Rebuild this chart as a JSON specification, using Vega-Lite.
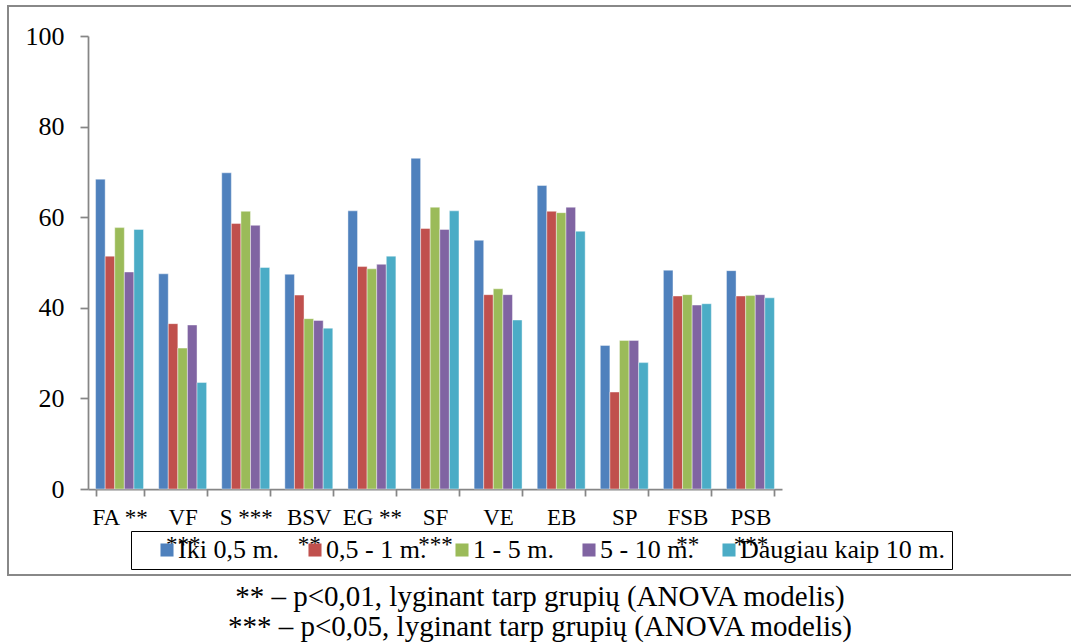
{
  "$schema": "https://vega.github.io/schema/vega-lite/v6.json",
  "width": 1064,
  "height": 569,
  "autosize": {"type": "none"},
  "padding": {"left": 8, "top": 6, "right": 0, "bottom": 69},
  "background": "white",
  "config": {
    "font": "Liberation Serif",
    "view": {"stroke": "#888888", "strokeWidth": 2},
    "legend": {"labelFont": "Liberation Serif"},
    "axis": {"labelFont": "Liberation Serif"}
  },
  "title": {
    "text": [
      "** – p<0,01, lyginant tarp grupių (ANOVA modelis)",
      "*** – p<0,05, lyginant tarp grupių (ANOVA modelis)"
    ],
    "orient": "bottom",
    "anchor": "middle",
    "font": "Liberation Serif",
    "fontSize": 29,
    "fontWeight": "normal",
    "color": "black",
    "lineHeight": 30,
    "offset": 8
  },
  "data": {
    "values": [
      {"cat": "FA **", "grp": "Iki 0,5 m.", "v": 68.4},
      {"cat": "FA **", "grp": "0,5 - 1 m.", "v": 51.4},
      {"cat": "FA **", "grp": "1 - 5 m.", "v": 57.7},
      {"cat": "FA **", "grp": "5 - 10 m.", "v": 47.9},
      {"cat": "FA **", "grp": "Daugiau kaip 10 m.", "v": 57.3},
      {"cat": "VF ***", "grp": "Iki 0,5 m.", "v": 47.5},
      {"cat": "VF ***", "grp": "0,5 - 1 m.", "v": 36.5},
      {"cat": "VF ***", "grp": "1 - 5 m.", "v": 31.1},
      {"cat": "VF ***", "grp": "5 - 10 m.", "v": 36.2},
      {"cat": "VF ***", "grp": "Daugiau kaip 10 m.", "v": 23.5},
      {"cat": "S ***", "grp": "Iki 0,5 m.", "v": 69.8},
      {"cat": "S ***", "grp": "0,5 - 1 m.", "v": 58.6},
      {"cat": "S ***", "grp": "1 - 5 m.", "v": 61.3},
      {"cat": "S ***", "grp": "5 - 10 m.", "v": 58.2},
      {"cat": "S ***", "grp": "Daugiau kaip 10 m.", "v": 48.9},
      {"cat": "BSV **", "grp": "Iki 0,5 m.", "v": 47.4},
      {"cat": "BSV **", "grp": "0,5 - 1 m.", "v": 42.8},
      {"cat": "BSV **", "grp": "1 - 5 m.", "v": 37.6},
      {"cat": "BSV **", "grp": "5 - 10 m.", "v": 37.2},
      {"cat": "BSV **", "grp": "Daugiau kaip 10 m.", "v": 35.5},
      {"cat": "EG **", "grp": "Iki 0,5 m.", "v": 61.4},
      {"cat": "EG **", "grp": "0,5 - 1 m.", "v": 49.1},
      {"cat": "EG **", "grp": "1 - 5 m.", "v": 48.6},
      {"cat": "EG **", "grp": "5 - 10 m.", "v": 49.6},
      {"cat": "EG **", "grp": "Daugiau kaip 10 m.", "v": 51.4},
      {"cat": "SF ***", "grp": "Iki 0,5 m.", "v": 73.0},
      {"cat": "SF ***", "grp": "0,5 - 1 m.", "v": 57.5},
      {"cat": "SF ***", "grp": "1 - 5 m.", "v": 62.2},
      {"cat": "SF ***", "grp": "5 - 10 m.", "v": 57.3},
      {"cat": "SF ***", "grp": "Daugiau kaip 10 m.", "v": 61.4},
      {"cat": "VE", "grp": "Iki 0,5 m.", "v": 54.9},
      {"cat": "VE", "grp": "0,5 - 1 m.", "v": 42.9},
      {"cat": "VE", "grp": "1 - 5 m.", "v": 44.2},
      {"cat": "VE", "grp": "5 - 10 m.", "v": 42.9},
      {"cat": "VE", "grp": "Daugiau kaip 10 m.", "v": 37.3},
      {"cat": "EB", "grp": "Iki 0,5 m.", "v": 67.0},
      {"cat": "EB", "grp": "0,5 - 1 m.", "v": 61.3},
      {"cat": "EB", "grp": "1 - 5 m.", "v": 61.0},
      {"cat": "EB", "grp": "5 - 10 m.", "v": 62.2},
      {"cat": "EB", "grp": "Daugiau kaip 10 m.", "v": 56.9},
      {"cat": "SP", "grp": "Iki 0,5 m.", "v": 31.7},
      {"cat": "SP", "grp": "0,5 - 1 m.", "v": 21.4},
      {"cat": "SP", "grp": "1 - 5 m.", "v": 32.8},
      {"cat": "SP", "grp": "5 - 10 m.", "v": 32.8},
      {"cat": "SP", "grp": "Daugiau kaip 10 m.", "v": 27.9},
      {"cat": "FSB **", "grp": "Iki 0,5 m.", "v": 48.3},
      {"cat": "FSB **", "grp": "0,5 - 1 m.", "v": 42.6},
      {"cat": "FSB **", "grp": "1 - 5 m.", "v": 42.9},
      {"cat": "FSB **", "grp": "5 - 10 m.", "v": 40.6},
      {"cat": "FSB **", "grp": "Daugiau kaip 10 m.", "v": 40.9},
      {"cat": "PSB ***", "grp": "Iki 0,5 m.", "v": 48.2},
      {"cat": "PSB ***", "grp": "0,5 - 1 m.", "v": 42.6},
      {"cat": "PSB ***", "grp": "1 - 5 m.", "v": 42.7},
      {"cat": "PSB ***", "grp": "5 - 10 m.", "v": 42.9},
      {"cat": "PSB ***", "grp": "Daugiau kaip 10 m.", "v": 42.2}
    ]
  },
  "mark": {"type": "bar", "stroke": "white", "strokeWidth": 0.6, "strokeOpacity": 0.7},
  "encoding": {
    "x": {
      "field": "cat",
      "type": "nominal",
      "sort": null,
      "scale": {"range": [80, 774], "paddingInner": 0.24, "paddingOuter": 0.12},
      "axis": {
        "title": null,
        "orient": "bottom",
        "offset": -86,
        "domainColor": "#868686",
        "domainWidth": 1.75,
        "tickColor": "#868686",
        "tickWidth": 1.75,
        "tickSize": 7,
        "tickBand": "extent",
        "labelFont": "Liberation Serif",
        "labelFontSize": 23,
        "labelColor": "black",
        "labelAngle": 0,
        "labelPadding": 10,
        "labelLineHeight": 27,
        "labelLimit": 0,
        "labelOverlap": false,
        "labelExpr": "indexof(['VF ***','BSV **','SF ***','FSB **','PSB ***'], datum.value) >= 0 ? split(datum.value, ' ') : datum.value"
      }
    },
    "xOffset": {
      "field": "grp",
      "type": "nominal",
      "sort": ["Iki 0,5 m.", "0,5 - 1 m.", "1 - 5 m.", "5 - 10 m.", "Daugiau kaip 10 m."],
      "scale": {"paddingInner": 0, "paddingOuter": 0}
    },
    "y": {
      "field": "v",
      "type": "quantitative",
      "scale": {"domain": [0, 100], "range": [483, 30], "nice": false},
      "axis": {
        "title": null,
        "offset": -80,
        "values": [0, 20, 40, 60, 80, 100],
        "grid": false,
        "domainColor": "#868686",
        "domainWidth": 1.75,
        "tickColor": "#868686",
        "tickWidth": 1.75,
        "tickSize": 8,
        "labelFont": "Liberation Serif",
        "labelFontSize": 26,
        "labelColor": "black",
        "labelPadding": 16
      }
    },
    "color": {
      "field": "grp",
      "type": "nominal",
      "scale": {
        "domain": ["Iki 0,5 m.", "0,5 - 1 m.", "1 - 5 m.", "5 - 10 m.", "Daugiau kaip 10 m."],
        "range": ["#4F81BD", "#C0504D", "#9BBB59", "#8064A2", "#4BACC6"]
      },
      "legend": {
        "title": null,
        "orient": "none",
        "legendX": 123,
        "legendY": 525,
        "direction": "horizontal",
        "columns": 5,
        "symbolType": "square",
        "symbolSize": 170,
        "symbolStrokeWidth": 0,
        "symbolOpacity": 1,
        "symbolOffset": 17,
        "labelFont": "Liberation Serif",
        "labelFontSize": 26,
        "labelColor": "black",
        "labelOffset": -2,
        "labelLimit": 0,
        "columnPadding": 5,
        "padding": 6,
        "strokeColor": "black",
        "encode": {"legend": {"update": {"strokeWidth": {"value": 2}}}}
      }
    }
  }
}
